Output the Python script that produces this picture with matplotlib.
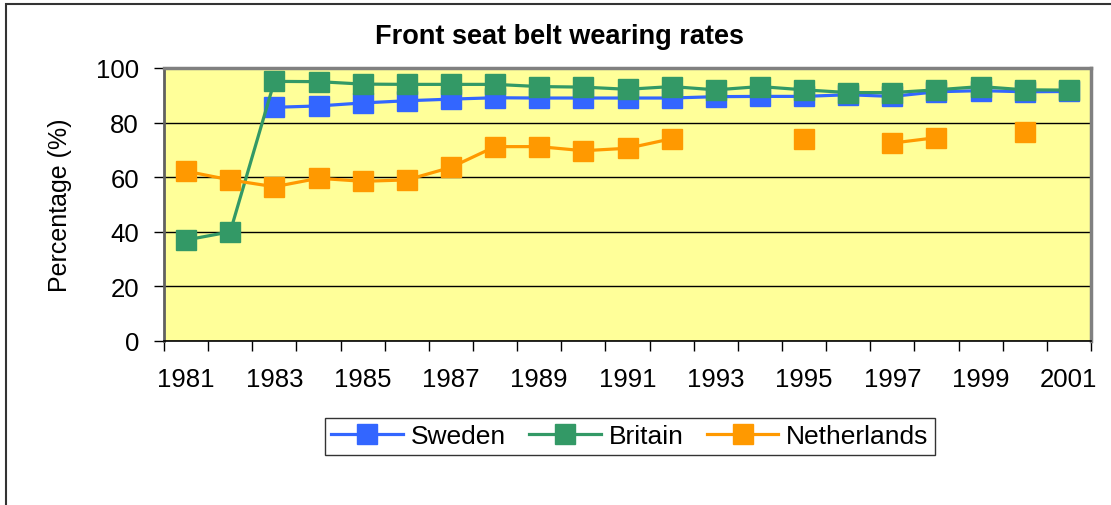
import numpy as np
import matplotlib.pyplot as plt
from matplotlib.patches import Rectangle

plt.rcParams['font.family'] = ['Liberation Sans', 'DejaVu Sans']

# ========= data =========
years = list(range(1981, 2002))
sweden = [np.nan, np.nan, 85.6, 86.1, 87.2, 88.0, 88.6, 89.1, 89.0, 89.0, 89.0,
          89.0, 89.5, 89.6, 89.6, 90.2, 89.6, 91.3, 91.7, 91.3, 91.4]
britain = [37.0, 40.0, 95.1, 95.0, 94.1, 94.0, 94.0, 94.0, 93.2, 93.0, 92.2,
           93.2, 92.0, 93.2, 92.0, 91.0, 91.0, 92.0, 93.2, 92.0, 91.9]
netherlands = [62.2, 59.0, 56.5, 59.6, 58.5, 59.0, 63.6, 71.2, 71.2, 69.7, 70.6,
               74.1, np.nan, np.nan, 74.1, np.nan, 72.5, 74.5, np.nan, 76.6, np.nan]

series = [("Sweden", sweden, "#3366FF"),
          ("Britain", britain, "#339966"),
          ("Netherlands", netherlands, "#FF9900")]

# ========= figure =========
fig = plt.figure(figsize=(11.11, 5.06), dpi=100)
ax = fig.add_axes([164 / 1111, 1 - 342 / 506, 927 / 1111, 273 / 506])
ax.set_facecolor("#FFFF99")

x = np.arange(len(years)) + 0.5
for name, vals, col in series:
    ax.plot(x, vals, color=col, linewidth=2.3, marker="s", markersize=14.4,
            markeredgecolor=col, label=name, clip_on=False)

ax.set_xlim(0, len(years))
ax.set_ylim(0, 100)
ax.set_yticks(range(0, 101, 20))
ax.yaxis.grid(True, color="black", linewidth=1)
ax.set_axisbelow(True)

ax.set_xticks(x[::2])
ax.set_xticklabels([str(y) for y in years[::2]])
ax.set_xticks(np.arange(len(years) + 1), minor=True)
ax.tick_params(axis="x", which="major", length=0, pad=19, labelsize=18.5)
ax.tick_params(axis="x", which="minor", length=7, width=1, color="black")
ax.tick_params(axis="y", length=7, width=1, labelsize=18.5, pad=11)

for s in ["top", "right"]:
    ax.spines[s].set_color("#808080")
    ax.spines[s].set_linewidth(2.5)
ax.spines["left"].set_color("#606060")
ax.spines["left"].set_linewidth(2)
ax.spines["bottom"].set_color("black")
ax.spines["bottom"].set_linewidth(1.2)

ax.set_ylabel("Percentage (%)", fontsize=18, labelpad=17)
fig.text(559 / 1111, 1 - 37 / 506, "Front seat belt wearing rates", ha="center",
         va="center", fontsize=19.5, fontweight="bold")

leg = fig.legend(loc="center", bbox_to_anchor=(630 / 1111, 1 - 437.5 / 506), ncol=3,
                 fontsize=19, frameon=True, fancybox=False, edgecolor="black",
                 handlelength=2.7, columnspacing=0.9, handletextpad=0.3,
                 borderpad=0.25, borderaxespad=0)
leg.get_frame().set_linewidth(1)

# chart area border (right/bottom edges fall outside the picture)
fig.patches.append(Rectangle((6 / 1111, -0.1), 1.2, 1 - 5 / 506 + 0.1,
                             transform=fig.transFigure, fill=False,
                             edgecolor="#333333", linewidth=1.5))

fig.savefig("out.png", dpi=100)
